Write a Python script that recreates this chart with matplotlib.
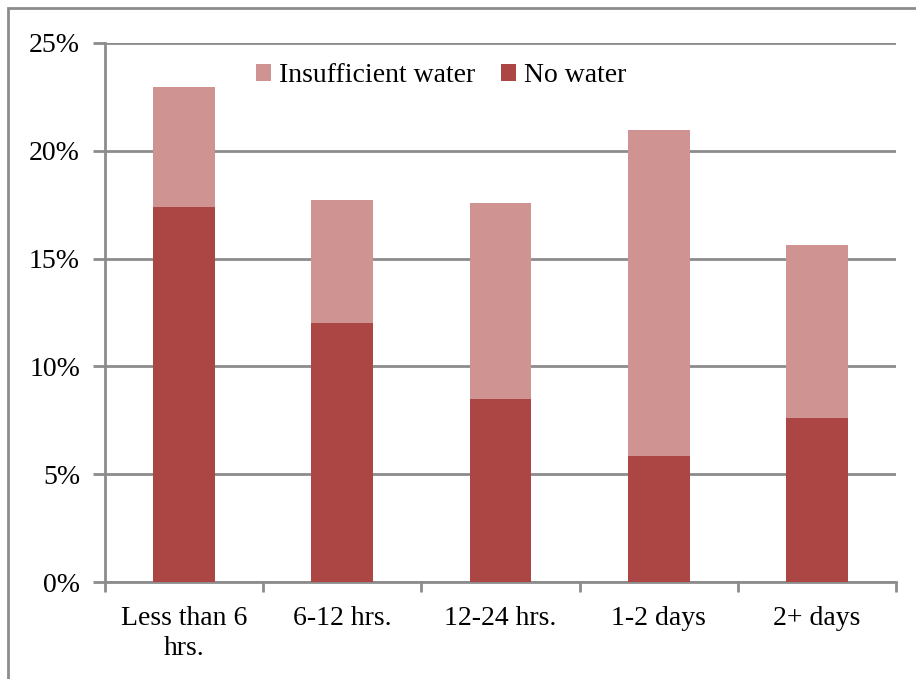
import matplotlib.pyplot as plt
from matplotlib.patches import Rectangle
from matplotlib.ticker import FuncFormatter, MultipleLocator
import numpy as np

plt.rcParams['font.family'] = ['Liberation Serif', 'DejaVu Serif']

categories = ['Less than 6\nhrs.', '6-12 hrs.', '12-24 hrs.', '1-2 days', '2+ days']
no_water = [17.4, 12.0, 8.5, 5.85, 7.6]
insufficient = [5.55, 5.7, 9.1, 15.1, 8.05]

dark = '#AB4644'
light = '#CF9392'
grid = '#8C8C8C'

fig = plt.figure(figsize=(9.16, 6.79), dpi=100)
fig.patch.set_facecolor('white')
# outer frame of the chart (cut off at right/bottom)
fig.patches.append(Rectangle((8 / 916, -0.1), 1.2, 1 - 8 / 679 + 0.1,
                             transform=fig.transFigure, fill=False,
                             edgecolor=grid, linewidth=2))

ax = fig.add_axes([105 / 916, 1 - 582 / 679, (896 - 105) / 916, (582 - 43) / 679])

x = np.arange(len(categories))
ax.bar(x, no_water, width=0.39, color=dark, label='No water', zorder=3)
ax.bar(x, insufficient, width=0.39, bottom=no_water, color=light,
       label='Insufficient water', zorder=3)

ax.set_xlim(-0.5, len(categories) - 0.5)
ax.set_ylim(0, 25)
ax.yaxis.set_major_locator(MultipleLocator(5))
ax.yaxis.set_major_formatter(FuncFormatter(lambda v, p: f'{v:.0f}%'))
ax.yaxis.grid(True, color=grid, linewidth=2, zorder=0)

ax.set_xticks(x)
ax.set_xticklabels(categories, fontsize=20, linespacing=1.3)
ax.set_xticks(np.arange(len(categories) + 1) - 0.5, minor=True)
ax.tick_params(axis='x', which='major', length=0, pad=17)
ax.tick_params(axis='x', which='minor', length=7, width=2, color=grid)
ax.tick_params(axis='y', length=9, width=2, color=grid, labelsize=20, pad=9)

for s in ['top', 'right']:
    ax.spines[s].set_visible(False)
for s in ['left', 'bottom']:
    ax.spines[s].set_color(grid)
    ax.spines[s].set_linewidth(2)

h, l = ax.get_legend_handles_labels()
ax.legend(h[::-1], l[::-1], loc='upper center', bbox_to_anchor=(0.425, 1.009),
          ncol=2, frameon=False, fontsize=20, handlelength=0.55,
          handleheight=0.55, handletextpad=0.3, columnspacing=0.9)

fig.savefig('out.png', dpi=100, facecolor='white')
